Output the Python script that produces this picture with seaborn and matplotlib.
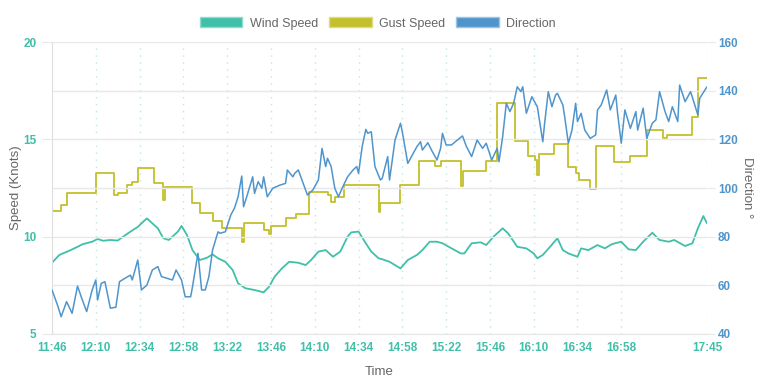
import matplotlib
matplotlib.use("Agg")
import matplotlib.pyplot as plt
from matplotlib.patches import Patch
import pandas as pd
import seaborn as sns

sns.set_style("white")
plt.rcParams['font.family'] = ['Liberation Sans', 'DejaVu Sans']

# --- Data (minutes after 11:46) ---
start = "2024-01-01 11:46"

wind_min = [0, 4, 10, 14, 17, 22, 25, 28, 32, 36, 39, 43, 47, 50, 52, 54, 58, 61, 64, 66,
            69, 71, 74, 77, 81, 85, 88, 91, 95, 99, 102, 106, 111, 116, 119, 122, 126, 130,
            135, 139, 142, 146, 150, 154, 158, 162, 164, 168, 172, 175, 179, 181, 185, 191,
            195, 200, 203, 207, 211, 214, 219, 224, 226, 230, 235, 238, 242, 247, 250, 255,
            260, 264, 266, 269, 273, 277, 280, 283, 288, 290, 294, 299, 303, 307, 312, 316,
            320, 324, 329, 333, 338, 341, 347, 351, 354, 357, 359]
wind_speed = [8.66, 9.06, 9.3, 9.48, 9.62, 9.74, 9.88, 9.79, 9.83, 9.8, 10.0, 10.26, 10.5,
              10.77, 10.94, 10.77, 10.43, 9.92, 9.83, 10.0, 10.26, 10.55, 10.08, 9.31, 8.8,
              8.92, 9.09, 8.89, 8.71, 8.29, 7.6, 7.35, 7.26, 7.14, 7.43, 7.94, 8.37, 8.71,
              8.66, 8.54, 8.8, 9.23, 9.31, 8.97, 9.23, 10.0, 10.22, 10.26, 9.66, 9.23, 8.89,
              8.84, 8.71, 8.37, 8.8, 9.06, 9.31, 9.74, 9.74, 9.66, 9.4, 9.14, 9.14, 9.66,
              9.71, 9.57, 10.0, 10.43, 10.17, 9.48, 9.4, 9.14, 8.89, 9.06, 9.48, 9.92, 9.31,
              9.14, 8.97, 9.4, 9.31, 9.57, 9.4, 9.62, 9.74, 9.35, 9.31, 9.74, 10.2, 9.83,
              9.74, 9.83, 9.52, 9.66, 10.43, 11.06, 10.68]

gust_min = [0, 5, 8, 24, 34, 36, 41, 44, 47, 56, 61, 62, 77, 81, 88, 93, 104, 105, 116,
            119, 120, 128, 134, 141, 151, 153, 155, 160, 179, 180, 191, 201, 210, 213, 224,
            225, 238, 244, 254, 261, 265, 266, 267, 275, 283, 287, 289, 295, 298, 308, 317,
            326, 335, 337, 351, 354, 359]
gust_speed = [11.33, 11.63, 12.26, 13.25, 12.14, 12.26, 12.65, 12.82, 13.55, 12.74, 11.88,
              12.54, 11.72, 11.2, 10.82, 10.43, 9.74, 10.72, 10.34, 10.14, 10.55, 10.94,
              11.16, 12.31, 12.14, 11.8, 12.05, 12.65, 11.28, 11.71, 12.65, 13.89, 13.63,
              13.89, 12.6, 13.37, 13.89, 16.85, 14.91, 14.14, 13.94, 13.17, 14.25, 14.74,
              13.6, 13.25, 12.91, 12.43, 14.66, 13.85, 14.14, 15.5, 15.05, 15.22, 16.16,
              18.17, 18.17]

dir_min = [0, 3, 5, 8, 11, 14, 16, 19, 22, 24, 25, 27, 29, 32, 35, 37, 40, 43, 44, 47, 49,
           52, 55, 58, 60, 63, 66, 68, 71, 73, 76, 77, 80, 82, 84, 86, 88, 91, 92, 95, 98,
           100, 102, 104, 105, 107, 110, 111, 113, 115, 116, 118, 121, 125, 128, 129, 132,
           133, 135, 138, 140, 143, 146, 148, 150, 151, 153, 155, 157, 159, 162, 165, 167,
           168, 170, 172, 173, 175, 177, 180, 181, 184, 185, 188, 191, 192, 195, 197, 200,
           202, 203, 206, 208, 211, 213, 214, 216, 219, 221, 225, 227, 230, 233, 236, 238,
           241, 244, 245, 247, 249, 251, 253, 255, 257, 258, 260, 263, 266, 269, 270, 272,
           274, 276, 277, 280, 281, 283, 285, 287, 288, 290, 292, 295, 298, 299, 301, 304,
           306, 309, 310, 312, 314, 317, 320, 321, 324, 326, 329, 331, 333, 336, 338, 340,
           343, 344, 347, 350, 354, 355, 359]
direction = [58.1, 51.9, 47.1, 53.3, 48.5, 59.7, 55.3, 49.2, 58.1, 62.2, 54.0, 60.8, 61.5,
             50.6, 51.0, 61.5, 62.9, 64.2, 62.2, 70.4, 58.1, 60.1, 66.3, 67.7, 63.6, 62.9,
             62.2, 66.3, 62.2, 55.3, 55.3, 59.4, 73.2, 58.1, 58.1, 63.6, 74.5, 82.0, 81.4,
             82.0, 88.9, 91.7, 96.4, 104.9, 92.3, 97.1, 104.6, 97.8, 102.6, 99.9, 104.6,
             96.4, 99.9, 101.2, 101.9, 107.4, 104.6, 106.0, 107.4, 101.2, 97.1, 99.2, 103.3,
             116.3, 108.8, 112.2, 108.8, 99.9, 96.4, 99.9, 104.6, 107.4, 108.8, 106.0, 117.0,
             124.1, 122.5, 123.1, 108.8, 103.3, 104.0, 112.9, 103.3, 119.7, 126.6, 123.1,
             110.1, 112.9, 117.0, 119.0, 115.6, 118.6, 115.6, 111.5, 116.3, 122.5, 117.7,
             117.7, 119.0, 121.4, 117.3, 112.9, 119.7, 116.3, 118.4, 111.5, 116.3, 110.8,
             121.1, 134.8, 131.4, 134.8, 141.6, 139.6, 141.6, 130.7, 137.5, 133.4, 119.0,
             126.6, 139.6, 133.4, 138.2, 138.9, 134.1, 129.3, 118.4, 123.8, 134.8, 127.3,
             130.7, 123.8, 120.4, 121.8, 132.1, 134.1, 140.3, 132.1, 138.2, 130.7, 118.4,
             132.1, 124.5, 131.4, 123.8, 132.8, 120.4, 126.6, 128.0, 139.6, 131.4, 127.3,
             133.4, 127.3, 142.3, 135.5, 139.6, 130.0, 136.9, 141.6]

tick_labels = ["11:46", "12:10", "12:34", "12:58", "13:22", "13:46", "14:10", "14:34",
               "14:58", "15:22", "15:46", "16:10", "16:34", "16:58", "17:45"]

# --- Frames ---
t0 = pd.Timestamp(start)
wind_df = pd.DataFrame({"time": t0 + pd.to_timedelta(wind_min, unit="min"), "speed": wind_speed})
gust_df = pd.DataFrame({"time": t0 + pd.to_timedelta(gust_min, unit="min"), "speed": gust_speed})
dir_df = pd.DataFrame({"time": t0 + pd.to_timedelta(dir_min, unit="min"), "direction": direction})
tick_times = [pd.Timestamp("2024-01-01 " + t) for t in tick_labels]

c_wind = "#40bfa9"
c_gust = "#c3c02b"
c_dir = "#4f95cc"
c_text = "#666666"
c_grid = "#e8e8e8"

fig = plt.figure(figsize=(7.68, 3.87), dpi=100)
ax = fig.add_axes([52 / 768, 1 - 334 / 387, 655 / 768, 292 / 387])
ax2 = ax.twinx()

sns.lineplot(data=wind_df, x="time", y="speed", ax=ax, color=c_wind, linewidth=1.3)
sns.lineplot(data=gust_df, x="time", y="speed", ax=ax, color=c_gust, linewidth=1.3,
             drawstyle="steps-post")
sns.lineplot(data=dir_df, x="time", y="direction", ax=ax2, color=c_dir, linewidth=1.1)

# --- Axes ---
ax.set_xlim(tick_times[0], tick_times[-1])
ax.set_ylim(5, 20)
ax2.set_ylim(40, 160)
ax.set_yticks([5, 10, 15, 20])
ax2.set_yticks([40, 60, 80, 100, 120, 140, 160])
ax.set_xticks(tick_times)
ax.set_xticklabels(tick_labels)

ax.grid(False)
ax2.grid(False)
for t in tick_times:
    ax.axvline(t, color="#bfe8de", linestyle=(0, (1, 4)), linewidth=1, zorder=0)
for v in [40, 60, 80, 100, 120, 140, 160]:
    ax2.axhline(v, color=c_grid, linewidth=1, zorder=0)

ax.set_zorder(ax2.get_zorder() - 1)
ax2.patch.set_visible(False)

ax.tick_params(axis="y", colors=c_grid, length=7, pad=4)
ax.tick_params(axis="x", colors="#d5eee8", length=4, pad=2)
ax2.tick_params(axis="y", colors=c_grid, length=6, pad=2)
for lab in ax.get_yticklabels() + ax.get_xticklabels():
    lab.set_color(c_wind)
    lab.set_fontweight("bold")
    lab.set_fontsize(8.5)
for lab in ax2.get_yticklabels():
    lab.set_color(c_dir)
    lab.set_fontweight("bold")
    lab.set_fontsize(8.5)

for a in (ax, ax2):
    a.spines["top"].set_visible(False)
    a.spines["right"].set_visible(False)
    a.spines["bottom"].set_color(c_grid)
ax2.spines["left"].set_visible(False)
ax.spines["left"].set_color("#dddddd")

ax.set_xlabel("Time", color=c_text, fontsize=9.5)
ax.set_ylabel("Speed (Knots)", color=c_text, fontsize=9.5)
ax2.set_ylabel("Direction °", color=c_text, fontsize=9.5, rotation=-90)
ax.xaxis.set_label_coords(0.5, -0.11)
ax.yaxis.set_label_coords(-0.046, 0.5)
ax2.yaxis.set_label_coords(1.07, 0.5)

handles = [Patch(facecolor=c_wind, edgecolor="#8fdccd", label="Wind Speed"),
           Patch(facecolor=c_gust, edgecolor="#dedb86", label="Gust Speed"),
           Patch(facecolor=c_dir, edgecolor="#9cc3e4", label="Direction")]
fig.legend(handles=handles, loc="upper center", bbox_to_anchor=(0.492, 0.985), ncol=3,
           frameon=False, handlelength=3.4, handleheight=0.9, handletextpad=0.6,
           columnspacing=0.9, fontsize=9, labelcolor=c_text)

fig.savefig("out.png", dpi=100)
